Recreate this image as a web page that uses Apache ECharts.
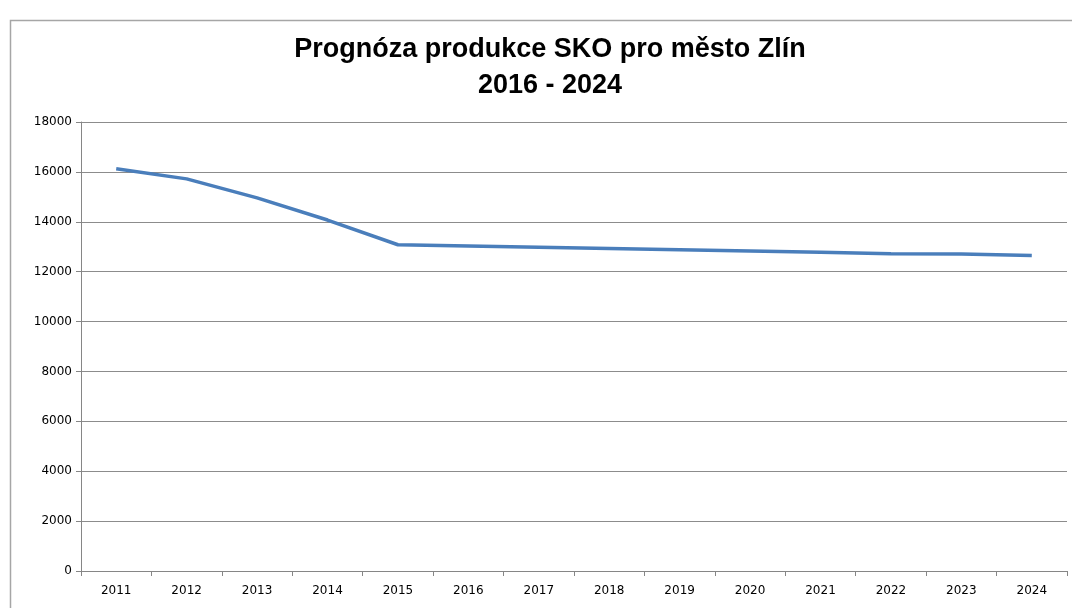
<!DOCTYPE html>
<html>
<head>
<meta charset="utf-8">
<script src="https://cdn.jsdelivr.net/npm/echarts@6/dist/echarts.min.js"></script>
<style>
  html, body { margin: 0; padding: 0; background: #fff; }
  #chart { width: 1072px; height: 608px; }
</style>
</head>
<body>
<div id="chart"></div>
<script>
// roky a prognóza produkce SKO (t)
var years = ['2011', '2012', '2013', '2014', '2015', '2016', '2017',
             '2018', '2019', '2020', '2021', '2022', '2023', '2024'];
var produkce = [16130, 15720, 14960, 14070, 13080, 13030, 12980,
                12930, 12880, 12830, 12780, 12720, 12710, 12650];

var chart = echarts.init(document.getElementById('chart'));

var option = {
    backgroundColor: '#fff',
    animation: false,
    title: {
        text: 'Prognóza produkce SKO pro město Zlín\n2016 - 2024',
        left: 545,
        textAlign: 'center',
        top: 27,
        textStyle: {
            fontFamily: 'Liberation Sans',
            fontSize: 27,
            fontWeight: 'bold',
            color: '#000',
            lineHeight: 36
        }
    },
    graphic: [
        {
            // rámeček grafu
            type: 'rect',
            shape: { x: 10.5, y: 20.5, width: 1100, height: 700 },
            style: { fill: 'none', stroke: '#a6a6a6', lineWidth: 1.5 },
            silent: true
        }
    ],
    grid: { left: 81, right: 5, top: 122, bottom: 37 },
    xAxis: {
        type: 'category',
        data: years,
        boundaryGap: true,
        axisLine: { lineStyle: { color: '#868686', width: 1 } },
        axisTick: { show: true, alignWithLabel: false, length: 5, lineStyle: { color: '#868686' } },
        axisLabel: { color: '#000', fontFamily: 'DejaVu Sans', fontSize: 12, margin: 14 }
    },
    yAxis: {
        type: 'value',
        min: 0,
        max: 18000,
        interval: 2000,
        axisLine: { show: true, lineStyle: { color: '#868686', width: 1 } },
        axisTick: { show: true, length: 5, lineStyle: { color: '#868686' } },
        axisLabel: {
            color: '#000', fontFamily: 'DejaVu Sans', fontSize: 12, margin: 9,
            formatter: function (v) { return String(v); }
        },
        splitLine: { lineStyle: { color: '#8c8c8c', width: 1 } }
    },
    series: [
        {
            name: 'Produkce SKO',
            type: 'line',
            data: produkce,
            showSymbol: false,
            symbol: 'none',
            lineStyle: { color: '#4a7ebb', width: 3.5 },
            itemStyle: { color: '#4a7ebb' }
        }
    ]
};

chart.setOption(option);
</script>
</body>
</html>
